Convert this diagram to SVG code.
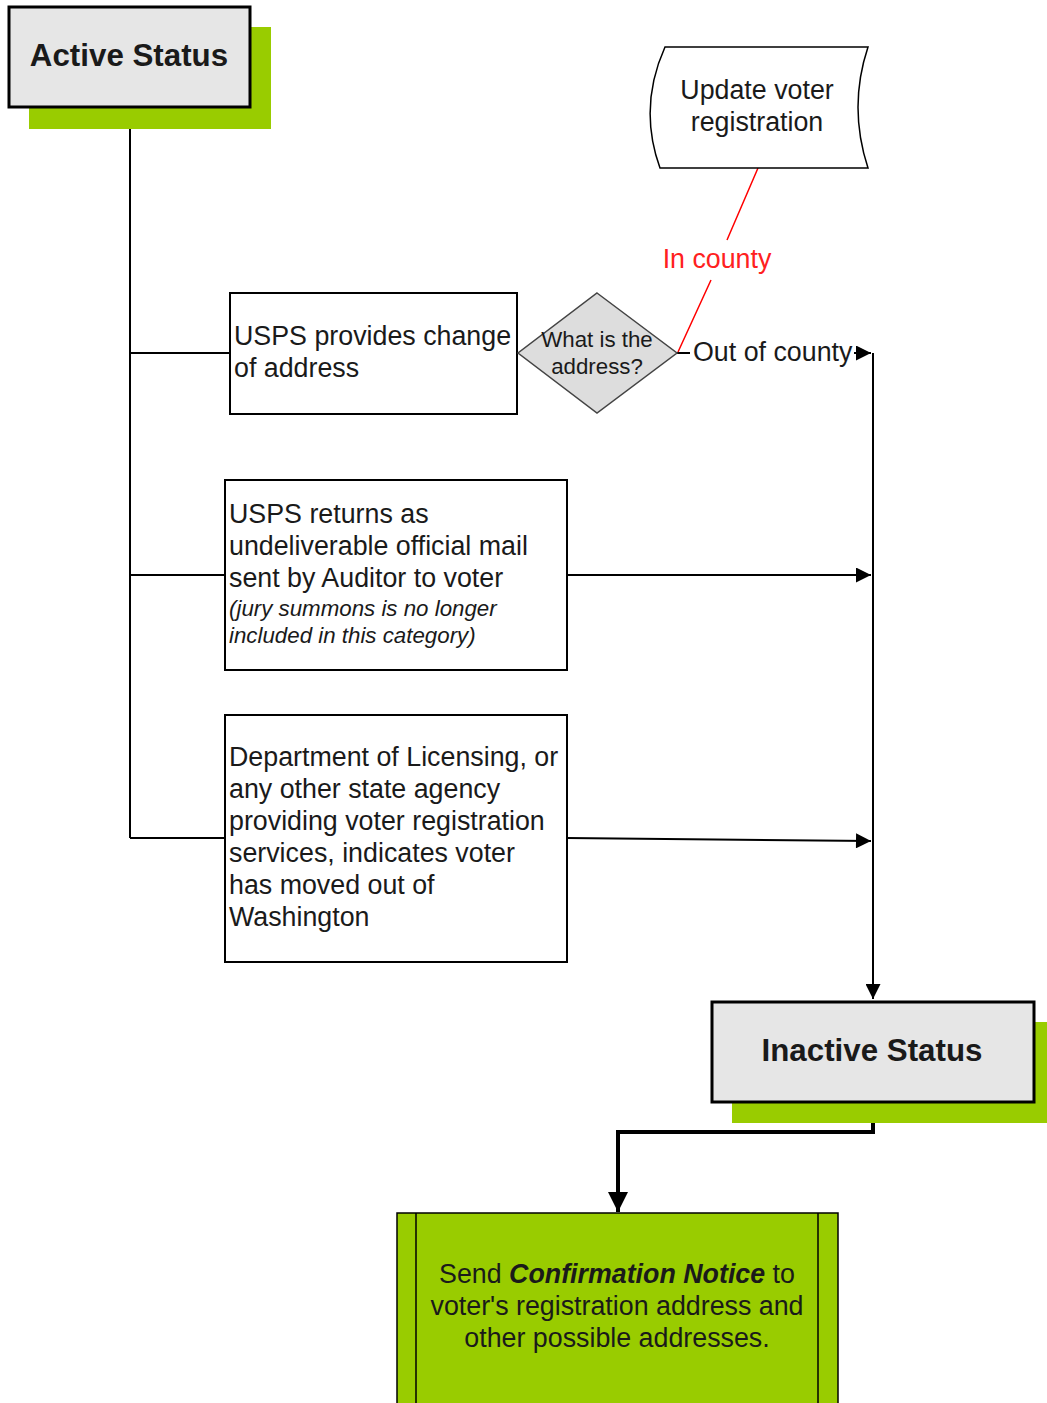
<svg xmlns="http://www.w3.org/2000/svg" width="1047" height="1403" viewBox="0 0 1047 1403">
<defs>
<marker id="arr" viewBox="0 0 10 10" refX="10" refY="5" markerWidth="17" markerHeight="15" markerUnits="userSpaceOnUse" orient="auto"><path d="M0,0 L10,5 L0,10 z" fill="#000"/></marker>
<marker id="arrT" viewBox="0 0 10 10" refX="10" refY="5" markerWidth="20" markerHeight="20" markerUnits="userSpaceOnUse" orient="auto"><path d="M0,0 L10,5 L0,10 z" fill="#000"/></marker>
</defs>
<style>
text{font-family:"Liberation Sans",Arial,sans-serif;fill:#1a1a1a}
.box{fill:#fff;stroke:#000;stroke-width:2}
.status{fill:#e6e6e6;stroke:#000;stroke-width:3}
.shadow{fill:#99cc00}
.t24{font-size:26.8px}
.t20{font-size:22.3px}
.title{font-size:31.3px;font-weight:bold;text-anchor:middle}
.conn{fill:none;stroke:#000;stroke-width:2}
</style>
<rect width="1047" height="1403" fill="#fff"/>
<g id="connectors">
<path class="conn" d="M130,107 V838 M130,353 H230 M130,575 H225 M130,838 H225"/>
<path class="conn" d="M567,575 H871" marker-end="url(#arr)"/>
<path class="conn" d="M567,838 L871,841" marker-end="url(#arr)"/>
<path class="conn" d="M677,353 H871" marker-end="url(#arr)"/>
<path class="conn" d="M873,353 V999" marker-end="url(#arr)"/>
<path fill="none" stroke="#000" stroke-width="4" d="M873,1102 V1132 H618 V1212" marker-end="url(#arrT)"/>
<path fill="none" stroke="#ff0000" stroke-width="1.5" d="M758,168 L727,240 M711,280 L678,352"/>
<text x="717" y="268" class="t24" text-anchor="middle" style="fill:#ff2020">In county</text>
<rect x="690" y="336" width="164" height="32" fill="#fff"/>
<text x="693" y="361" class="t24">Out of county</text>
</g>
<g id="active">
<rect class="shadow" x="29" y="27" width="242" height="102"/>
<rect class="status" x="9" y="7" width="241" height="100"/>
<text x="129" y="66" class="title">Active Status</text>
</g>
<g id="update">
<path d="M665,47 H868 Q848,107 868,168 H660 Q638,107 665,47 Z" fill="#fff" stroke="#000" stroke-width="1.5"/>
<text x="757" y="99" class="t24" text-anchor="middle">Update voter</text>
<text x="757" y="131" class="t24" text-anchor="middle">registration</text>
</g>
<g id="usps-change">
<rect class="box" x="230" y="293" width="287" height="121"/>
<text x="234" y="345" class="t24">USPS provides change</text>
<text x="234" y="377" class="t24">of address</text>
</g>
<g id="decision">
<path d="M597,293 L677,353 L597,413 L518,353 Z" fill="#dddddd" stroke="#444" stroke-width="1.5"/>
<text x="597" y="347" class="t20" text-anchor="middle">What is the</text>
<text x="597" y="374" class="t20" text-anchor="middle">address?</text>
</g>
<g id="usps-returns">
<rect class="box" x="225" y="480" width="342" height="190"/>
<text x="229" y="523" class="t24">USPS returns as</text>
<text x="229" y="555" class="t24">undeliverable official mail</text>
<text x="229" y="587" class="t24">sent by Auditor to voter</text>
<text x="229" y="616" class="t20" font-style="italic">(jury summons is no longer</text>
<text x="229" y="643" class="t20" font-style="italic">included in this category)</text>
</g>
<g id="dol">
<rect class="box" x="225" y="715" width="342" height="247"/>
<text x="229" y="766" class="t24">Department of Licensing, or</text>
<text x="229" y="798" class="t24">any other state agency</text>
<text x="229" y="830" class="t24">providing voter registration</text>
<text x="229" y="862" class="t24">services, indicates voter</text>
<text x="229" y="894" class="t24">has moved out of</text>
<text x="229" y="926" class="t24">Washington</text>
</g>
<g id="inactive">
<rect class="shadow" x="732" y="1022" width="320" height="101"/>
<rect class="status" x="712" y="1002" width="322" height="100"/>
<text x="872" y="1061" class="title">Inactive Status</text>
</g>
<g id="confirmation">
<rect x="397" y="1213" width="441" height="200" fill="#99cc00" stroke="#000" stroke-width="1.5"/>
<path d="M416,1213 V1403 M818,1213 V1403" stroke="#000" stroke-width="1.5"/>
<text x="617" y="1283" class="t24" text-anchor="middle">Send <tspan font-weight="bold" font-style="italic">Confirmation Notice</tspan> to</text>
<text x="617" y="1315" class="t24" text-anchor="middle">voter's registration address and</text>
<text x="617" y="1347" class="t24" text-anchor="middle">other possible addresses.</text>
</g>
</svg>
